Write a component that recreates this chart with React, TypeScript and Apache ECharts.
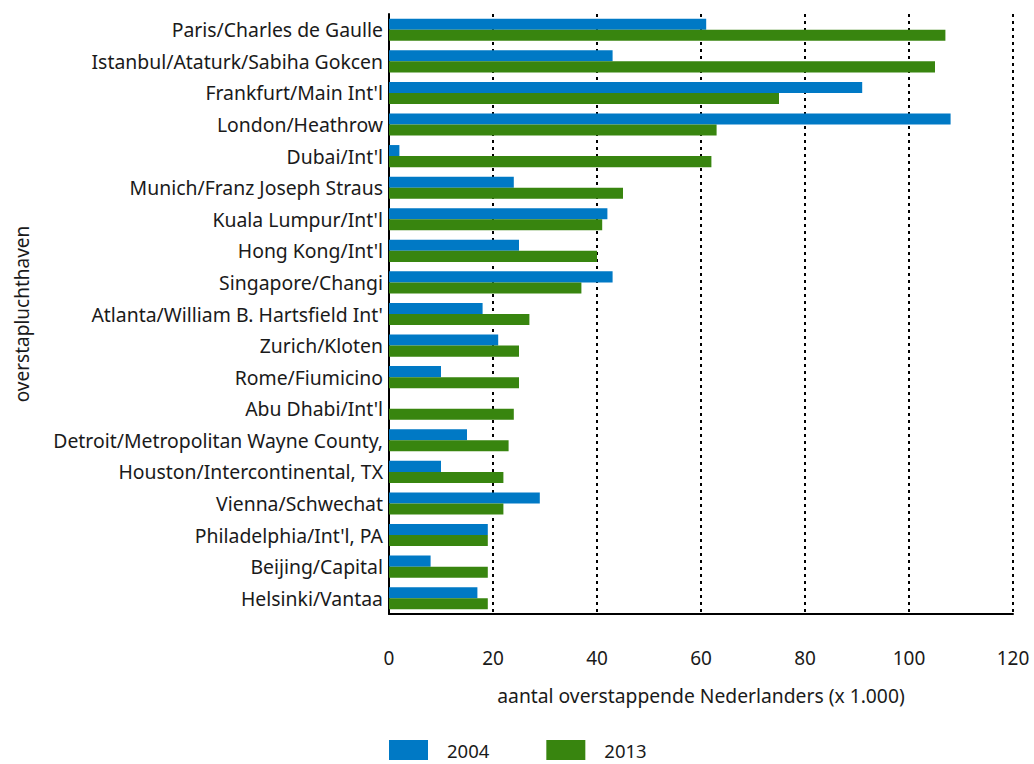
import React, { useEffect, useRef } from "react";
import * as echarts from "echarts";

const categories = [
  "Paris/Charles de Gaulle",
  "Istanbul/Ataturk/Sabiha Gokcen",
  "Frankfurt/Main Int'l",
  "London/Heathrow",
  "Dubai/Int'l",
  "Munich/Franz Joseph Straus",
  "Kuala Lumpur/Int'l",
  "Hong Kong/Int'l",
  "Singapore/Changi",
  "Atlanta/William B. Hartsfield Int'",
  "Zurich/Kloten",
  "Rome/Fiumicino",
  "Abu Dhabi/Int'l",
  "Detroit/Metropolitan Wayne County,",
  "Houston/Intercontinental, TX",
  "Vienna/Schwechat",
  "Philadelphia/Int'l, PA",
  "Beijing/Capital",
  "Helsinki/Vantaa",
];

const values2004 = [61, 43, 91, 108, 2, 24, 42, 25, 43, 18, 21, 10, 0, 15, 10, 29, 19, 8, 17];
const values2013 = [107, 105, 75, 63, 62, 45, 41, 40, 37, 27, 25, 25, 24, 23, 22, 22, 19, 19, 19];

const FONT = "Noto Sans";

export default function App() {
  const ref = useRef<HTMLDivElement>(null);
  useEffect(() => {
    if (!ref.current) return;
    const chart = echarts.init(ref.current, undefined, { renderer: "svg" });
    chart.setOption({
      animation: false,
      textStyle: { fontFamily: FONT, color: "#1a1a1a" },
      grid: { left: 389, right: 21, top: 14, bottom: 150, containLabel: false },
      legend: {
        left: 389,
        top: 740,
        padding: 0,
        itemWidth: 39,
        itemHeight: 20,
        itemGap: 57,
        icon: "rect",
        textStyle: { fontFamily: FONT, fontSize: 18.5, lineHeight: 20, color: "#1a1a1a", padding: [0, 0, 0, 14] },
        data: ["2004", "2013"],
      },
      xAxis: {
        type: "value",
        min: 0,
        max: 120,
        interval: 20,
        name: "aantal overstappende Nederlanders (x 1.000)",
        nameLocation: "middle",
        nameGap: 72,
        nameTextStyle: { fontFamily: FONT, fontSize: 19.3, color: "#1a1a1a" },
        axisLine: { show: true, lineStyle: { color: "#000", width: 2 } },
        axisTick: { show: false },
        axisLabel: { margin: 34, fontFamily: FONT, fontSize: 19, color: "#1a1a1a" },
        splitLine: { show: true, lineStyle: { color: "#000", width: 2, type: [3, 4] } },
      },
      yAxis: {
        type: "category",
        data: categories,
        inverse: true,
        name: "overstapluchthaven",
        nameLocation: "middle",
        nameGap: 358,
        nameTextStyle: { fontFamily: FONT, fontSize: 19, color: "#1a1a1a" },
        axisLine: { show: true, lineStyle: { color: "#000", width: 2 } },
        axisTick: { show: false },
        axisLabel: { margin: 6, fontFamily: FONT, fontSize: 19.4, color: "#1a1a1a" },
      },
      series: [
        {
          name: "2004",
          type: "bar",
          data: values2004,
          itemStyle: { color: "#0079C5" },
          barGap: "0%",
          barCategoryGap: "30%",
        },
        {
          name: "2013",
          type: "bar",
          data: values2013,
          itemStyle: { color: "#38850F" },
          barGap: "0%",
          barCategoryGap: "30%",
        },
      ],
    });
    return () => chart.dispose();
  }, []);
  return <div ref={ref} style={{ width: 1034, height: 764, position: "absolute", left: 0, top: 0 }} />;
}
